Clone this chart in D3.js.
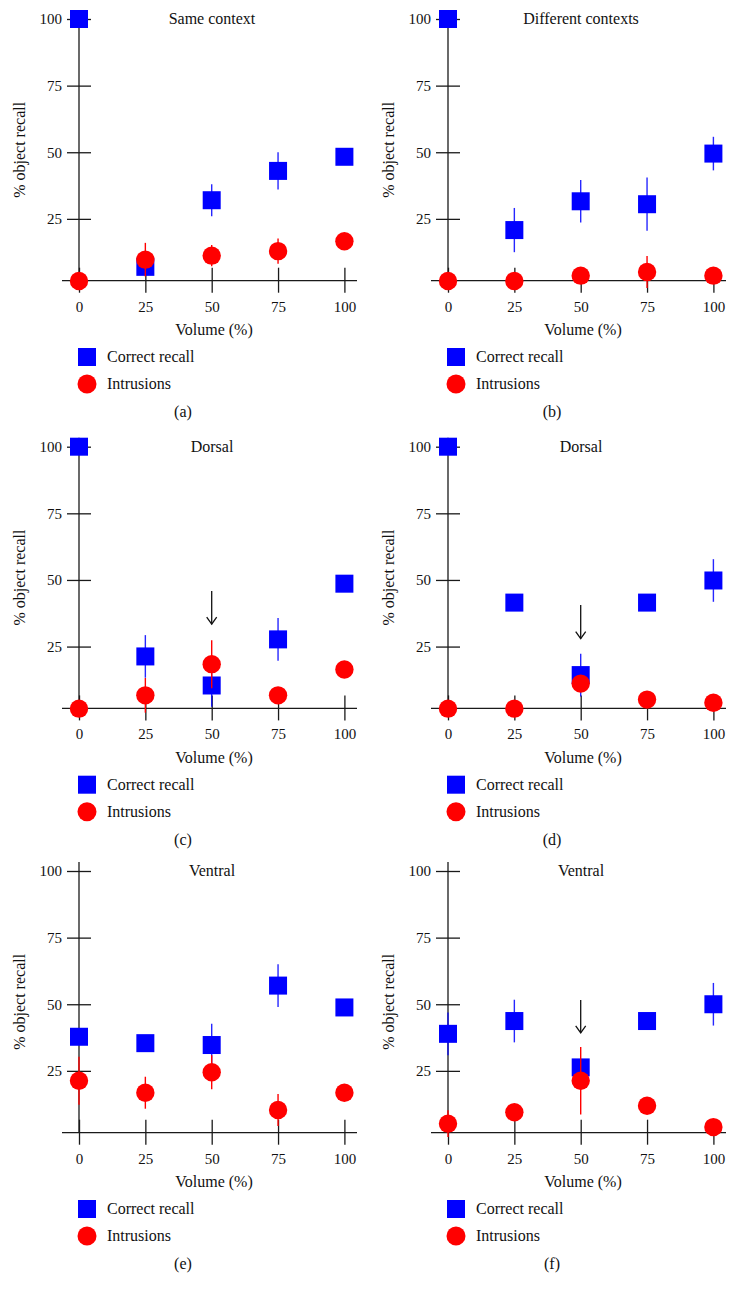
<!DOCTYPE html>
<html>
<head>
<meta charset="utf-8">
<script src="https://cdn.jsdelivr.net/npm/d3@7"></script>
<style>
  html, body { margin: 0; padding: 0; background: #fff; }
  svg { display: block; }
  text { font-family: "Liberation Serif", "DejaVu Serif", serif; fill: #111; }
</style>
</head>
<body>
<svg id="chart" width="736" height="1300"></svg>
<script>
// ---- data ----
const volumes = [0, 25, 50, 75, 100];
const yTickValues = [25, 50, 75, 100];
const titles = ["Same context", "Different contexts", "Dorsal", "Dorsal", "Ventral", "Ventral"];
const panelLabels = ["(a)", "(b)", "(c)", "(d)", "(e)", "(f)"];
const seriesNames = ["Correct recall", "Intrusions"];

const correctA = [100, 7, 32, 43, 48.3];
const correctErrA = [0, 0, 6, 7, 0];
const intrusA = [1.7, 9.7, 11.2, 12.9, 16.6];
const intrusErrA = [0, 6.3, 4, 4.7, 0];

const correctB = [100, 20.8, 31.6, 30.5, 49.5];
const correctErrB = [0, 8.3, 8, 10, 6.3];
const intrusB = [1.7, 1.7, 3.7, 5.1, 3.7];
const intrusErrB = [0, 0, 0, 6, 0];

const correctC = [100, 21.3, 10.4, 27.7, 48.6];
const correctErrC = [0, 8, 8, 8, 0];
const intrusC = [1.7, 6.7, 18.4, 6.7, 16.4];
const intrusErrC = [0, 6.5, 9, 0, 0];

const correctD = [100, 41.5, 14.3, 41.5, 49.8];
const correctErrD = [0, 0, 8, 0, 8];
const intrusD = [1.7, 1.7, 11.1, 5.1, 3.9];
const intrusErrD = [0, 0, 0, 0, 0];

const correctE = [37.8, 35.4, 34.7, 57, 48.8];
const correctErrE = [0, 0, 8, 8, 0];
const intrusE = [21.3, 16.8, 24.5, 10.3, 16.8];
const intrusErrE = [9, 6, 6.4, 6, 0];

const correctF = [38.9, 43.7, 26.3, 43.7, 50];
const correctErrF = [8, 8, 0, 0, 8];
const intrusF = [5.2, 9.5, 21.3, 11.9, 3.9];
const intrusErrF = [5, 0, 12.7, 0, 0];

// arrows: [x value, top value, tip value] (null = none)
const arrows = [null, null, [50, 45.9, 33.4], [50, 40.6, 28], null, [50, 51.6, 39.3]];

const panels = [
  [correctA, correctErrA, intrusA, intrusErrA],
  [correctB, correctErrB, intrusB, intrusErrB],
  [correctC, correctErrC, intrusC, intrusErrC],
  [correctD, correctErrD, intrusD, intrusErrD],
  [correctE, correctErrE, intrusE, intrusErrE],
  [correctF, correctErrF, intrusF, intrusErrF]
];

// ---- layout ----
const colX = [0, 369];
const rowY = [0, 427.7, 852];
const BLUE = "#0000ff", RED = "#ff0000", AXIS = "#1a1a1a";
const axisCrossValue = 1.8;

const svg = d3.select("#chart");

const x = d3.scaleLinear().domain([0, 100]).range([79, 344.4]);
const y = d3.scaleLinear().domain([0, 100]).range([285.5, 19]);
const axisY = y(axisCrossValue);

panels.forEach((p, i) => {
  const [corr, corrErr, intr, intrErr] = p;
  const g = svg.append("g")
    .attr("transform", `translate(${colX[i % 2]},${rowY[Math.floor(i / 2)]})`);

  // y axis line
  g.append("line")
    .attr("x1", x(0)).attr("x2", x(0))
    .attr("y1", 10).attr("y2", axisY)
    .attr("stroke", AXIS).attr("stroke-width", 1.3);

  // y axis ticks & labels via d3.axisLeft
  const yAxis = g.append("g")
    .attr("transform", `translate(${x(0)},0)`)
    .call(d3.axisLeft(y).tickValues(yTickValues).tickSize(12).tickPadding(5));
  yAxis.select(".domain").remove();
  yAxis.selectAll(".tick line")
    .attr("x1", -12).attr("x2", 12)
    .attr("stroke", AXIS).attr("stroke-width", 1.3);
  yAxis.selectAll(".tick text")
    .attr("x", -17)
    .attr("font-family", "Liberation Serif")
    .attr("font-size", 15)
    .attr("fill", "#111");

  // x axis line
  g.append("line")
    .attr("x1", 62).attr("x2", 357)
    .attr("y1", axisY).attr("y2", axisY)
    .attr("stroke", AXIS).attr("stroke-width", 1.3);

  const xAxis = g.append("g")
    .attr("transform", `translate(0,${axisY})`)
    .call(d3.axisBottom(x).tickValues(volumes).tickSize(12).tickPadding(6));
  xAxis.select(".domain").remove();
  xAxis.selectAll(".tick line")
    .attr("y1", -13).attr("y2", 12)
    .attr("stroke", AXIS).attr("stroke-width", 1.3);
  xAxis.selectAll(".tick text")
    .attr("y", 31).attr("dy", 0)
    .attr("font-family", "Liberation Serif")
    .attr("font-size", 15)
    .attr("fill", "#111");

  // title
  g.append("text")
    .attr("x", 212).attr("y", 24)
    .attr("text-anchor", "middle")
    .attr("font-size", 16)
    .text(titles[i]);

  // axis titles
  g.append("text")
    .attr("x", 214).attr("y", 335)
    .attr("text-anchor", "middle")
    .attr("font-size", 16)
    .text("Volume (%)");
  g.append("text")
    .attr("transform", `translate(25,${(y(100) + axisY) / 2}) rotate(-90)`)
    .attr("text-anchor", "middle")
    .attr("font-size", 16)
    .text("% object recall");

  // arrow
  const a = arrows[i];
  if (a) {
    const ax = x(a[0]), yt = y(a[1]), yp = y(a[2]);
    g.append("line")
      .attr("x1", ax).attr("x2", ax).attr("y1", yt).attr("y2", yp)
      .attr("stroke", "#111").attr("stroke-width", 1.3);
    g.append("path")
      .attr("d", `M${ax - 5},${yp - 7}L${ax},${yp}L${ax + 5},${yp - 7}`)
      .attr("fill", "none").attr("stroke", "#111").attr("stroke-width", 1.3);
  }

  // correct recall: error bars + squares
  const sq = 18;
  g.append("g").selectAll("line")
    .data(volumes.map((v, k) => ({ v, m: corr[k], e: corrErr[k] })).filter(d => d.e > 0))
    .join("line")
    .attr("x1", d => x(d.v)).attr("x2", d => x(d.v))
    .attr("y1", d => y(d.m + d.e)).attr("y2", d => y(d.m - d.e))
    .attr("stroke", BLUE).attr("stroke-width", 1.4).attr("stroke-opacity", 0.85);
  g.append("g").selectAll("rect")
    .data(volumes.map((v, k) => ({ v, m: corr[k] })))
    .join("rect")
    .attr("x", d => x(d.v) - sq / 2).attr("y", d => y(d.m) - sq / 2)
    .attr("width", sq).attr("height", sq)
    .attr("fill", BLUE);

  // intrusions: error bars + circles
  g.append("g").selectAll("line")
    .data(volumes.map((v, k) => ({ v, m: intr[k], e: intrErr[k] })).filter(d => d.e > 0))
    .join("line")
    .attr("x1", d => x(d.v)).attr("x2", d => x(d.v))
    .attr("y1", d => y(d.m + d.e)).attr("y2", d => y(d.m - d.e))
    .attr("stroke", RED).attr("stroke-width", 1.4);
  g.append("g").selectAll("circle")
    .data(volumes.map((v, k) => ({ v, m: intr[k] })))
    .join("circle")
    .attr("cx", d => x(d.v)).attr("cy", d => y(d.m))
    .attr("r", 9.2)
    .attr("fill", RED);

  // legend
  g.append("rect")
    .attr("x", 78).attr("y", 348).attr("width", 18).attr("height", 18)
    .attr("fill", BLUE);
  g.append("text")
    .attr("x", 107).attr("y", 362)
    .attr("font-size", 16)
    .text(seriesNames[0]);
  g.append("circle")
    .attr("cx", 87).attr("cy", 384).attr("r", 9.5)
    .attr("fill", RED);
  g.append("text")
    .attr("x", 107).attr("y", 389)
    .attr("font-size", 16)
    .text(seriesNames[1]);

  // panel label
  g.append("text")
    .attr("x", 183).attr("y", 417)
    .attr("text-anchor", "middle")
    .attr("font-size", 16)
    .text(panelLabels[i]);
});
</script>
</body>
</html>
